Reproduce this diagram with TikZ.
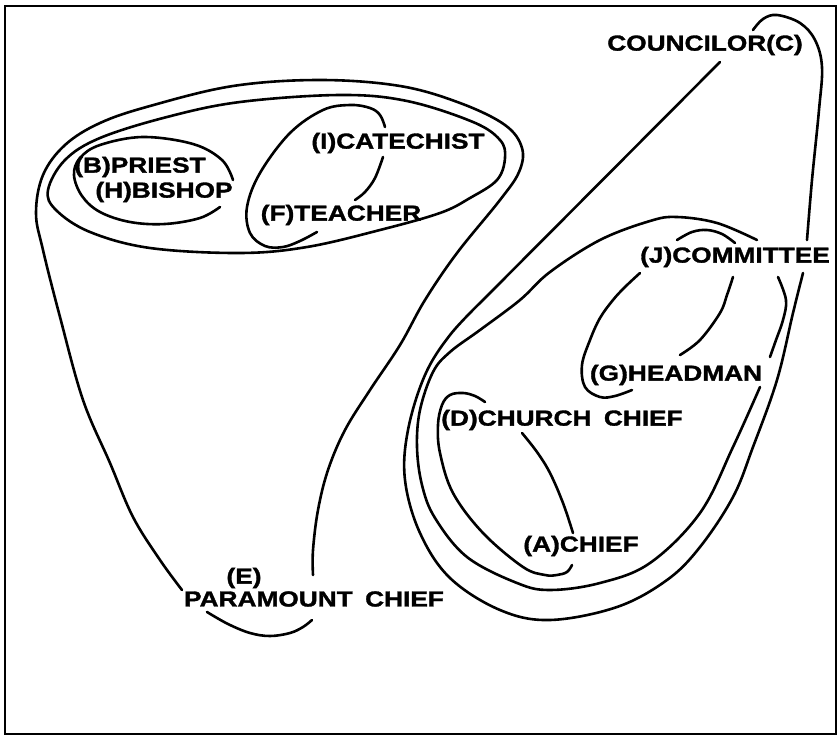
\documentclass[tikz,border=0pt]{standalone}
\usepackage{fontspec}
\newfontfamily\lblfont[FakeStretch=1.21,FakeBold=1.5,WordSpace=1.7]{Liberation Sans Bold}
\begin{document}
\begin{tikzpicture}[x=1pt,y=-1pt,
  curve/.style={line width=2.6pt, line cap=round, line join=round},
  frame/.style={line width=2.8pt},
  lbl/.style={inner sep=0pt, font=\lblfont\fontsize{21.7}{23}\selectfont}]
\useasboundingbox (0,0) rectangle (839,736);
\draw[frame] (5,6) rectangle (836,734);

% labels
\node[lbl] (C) at (705,45) {COUNCILOR(C)};
\node[lbl] (B) at (140,167) {(B)PRIEST};
\node[lbl] (H) at (164,192) {(H)BISHOP};
\node[lbl] (I) at (398,143) {(I)CATECHIST};
\node[lbl] (F) at (341,215) {(F)TEACHER};
\node[lbl] (E) at (244,578) {(E)};
\node[lbl] (Ep) at (314,599) {PARAMOUNT CHIEF};
\node[lbl] (J) at (735,257) {(J)COMMITTEE};
\node[lbl] (G) at (676,375) {(G)HEADMAN};
\node[lbl] (D) at (562,420) {(D)CHURCH CHIEF};
\node[lbl] (A) at (581,546) {(A)CHIEF};

% E curve (outer, left group)
\draw[curve] plot[smooth, tension=0.6] coordinates {
 (313,575) (313,550) (318,510) (328,470) (345,430) (370,390) (400,345)
 (425,300) (457,253) (500,200) (519,172) (522,148) (505,125) (460,103)
 (400,86) (320,80) (233,86) (150,106) (100,123) (65,145) (43,175)
 (36,213) (43,250) (60,317) (83,400) (110,463) (133,517) (160,560) (182,590)};
\draw[curve] plot[smooth, tension=0.6] coordinates {
 (207,612) (228,624) (250,633) (270,636) (290,633) (303,627) (312,620)};

% inner ellipse of left group
\draw[curve] plot[smooth cycle, tension=0.6] coordinates {
 (240,102) (340,95) (407,101) (473,122) (500,140) (505,158) (497,180)
 (470,198) (440,213) (380,230) (307,247) (240,253) (150,248) (90,232)
 (56,210) (48,190) (65,160) (100,138) (167,117)};

% B/H ellipse
\draw[curve] plot[smooth, tension=0.6] coordinates {
 (220,207) (200,218) (165,224) (130,222) (100,212) (82,196) (74,175)
 (80,158) (100,145) (143,137) (193,144) (222,160) (233,180)};

% I/F ellipse
\draw[curve] plot[smooth, tension=0.6] coordinates {
 (385,127) (380,115) (370,108) (350,105) (323,110) (290,133) (260,173)
 (247,207) (250,233) (265,246) (283,247) (300,241) (317,232)};
\draw[curve] plot[smooth, tension=0.6] coordinates {
 (383,157) (375,178) (365,192) (355,200)};

% C curve
\draw[curve] (720,62) -- (483,300);
\draw[curve] plot[smooth, tension=0.6] coordinates {
 (483,300) (450,335) (425,375) (408,430) (405,480) (420,533) (450,578)
 (500,610) (550,620) (617,607) (667,580) (700,547) (733,497) (753,447)
 (777,380) (793,313) (803,273)};
\draw[curve] plot[smooth, tension=0.6] coordinates {
 (807,240) (812,180) (819,110) (822,67) (815,40) (800,23) (777,15)
 (763,19) (753,30)};

% J/G/D/A container
\draw[curve] plot[smooth, tension=0.6] coordinates {
 (757,240) (717,223) (677,217) (650,221) (600,240) (550,272) (520,300)
 (480,330) (450,352) (433,372) (420,410) (417,447) (422,485) (435,518)
 (467,557) (517,583) (550,590) (600,583) (650,563) (700,513) (733,447)
 (760,387)};
\draw[curve] plot[smooth, tension=0.6] coordinates {
 (778,277) (786,300) (783,320) (776,340) (770,357)};

% J/G ellipse
\draw[curve] plot[smooth, tension=0.6] coordinates {
 (677,240) (692,232) (707,230) (722,234) (735,243)};
\draw[curve] plot[smooth, tension=0.6] coordinates {
 (733,277) (727,295) (720,313) (700,340) (680,355)};
\draw[curve] plot[smooth, tension=0.6] coordinates {
 (640,273) (625,287) (613,300) (600,318) (590,340) (582,365) (585,387)
 (600,397) (615,396) (632,390)};

% D/A ellipse
\draw[curve] plot[smooth, tension=0.6] coordinates {
 (485,402) (475,396) (463,393) (450,395) (442,405) (438,425) (440,453)
 (453,493) (483,533) (523,567) (545,575) (557,575) (567,572) (572,565)};
\draw[curve] plot[smooth, tension=0.6] coordinates {
 (522,433) (537,452) (550,473) (563,503) (573,533)};
\end{tikzpicture}
\end{document}
